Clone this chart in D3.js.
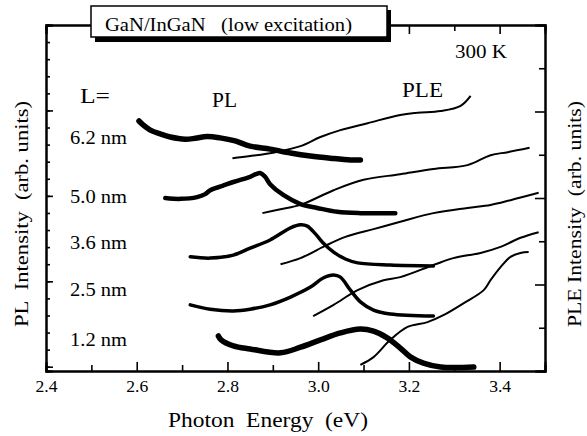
<!DOCTYPE html>
<html>
<head>
<meta charset="utf-8">
<script src="https://cdn.jsdelivr.net/npm/d3@7"></script>
<style>
  body { margin: 0; background: #fff; }
  svg text { font-family: "Liberation Serif", "Times New Roman", serif; fill: #000; }
</style>
</head>
<body>
<svg id="chart" width="587" height="436"></svg>
<script>
// photon energy (eV) / intensity (arb. units, PLE axis 0..8)
let wellWidths = ["6.2 nm", "5.0 nm", "3.6 nm", "2.5 nm", "1.2 nm"];

let pl62 = [[2.605,5.78],[2.614,5.69],[2.630,5.57],[2.652,5.48],[2.674,5.41],[2.707,5.36],[2.729,5.38],
    [2.755,5.42],[2.784,5.39],[2.817,5.32],[2.850,5.20],[2.894,5.13],[2.939,5.04],[2.983,4.97],
    [3.027,4.92],[3.071,4.88],[3.093,4.88]];
let pl50 = [[2.663,4.00],[2.696,3.98],[2.733,4.02],[2.751,4.09],[2.762,4.18],[2.789,4.28],[2.813,4.37],
    [2.850,4.49],[2.872,4.58],[2.883,4.49],[2.894,4.32],[2.923,4.07],[2.961,3.86],[2.998,3.77],
    [3.042,3.68],[3.093,3.65],[3.170,3.65]];
let pl36 = [[2.718,2.64],[2.762,2.61],[2.813,2.68],[2.850,2.84],[2.894,3.03],[2.939,3.31],[2.961,3.38],
    [2.976,3.35],[2.994,3.17],[3.011,2.96],[3.034,2.75],[3.060,2.59],[3.087,2.50],[3.159,2.45],[3.254,2.43]];
let pl25 = [[2.718,1.53],[2.762,1.43],[2.813,1.39],[2.850,1.43],[2.894,1.53],[2.939,1.71],[2.983,1.94],
    [3.011,2.15],[3.034,2.22],[3.049,2.17],[3.071,1.87],[3.093,1.60],[3.122,1.41],[3.159,1.32],[3.254,1.27]];
let pl12 = [[2.780,0.81],[2.786,0.72],[2.813,0.58],[2.850,0.51],[2.917,0.42],[2.961,0.55],[3.005,0.72],
    [3.049,0.88],[3.093,0.97],[3.122,0.92],[3.153,0.76],[3.181,0.53],[3.204,0.32],[3.232,0.18],
    [3.270,0.09],[3.343,0.09]];

let ple62 = [[2.811,4.92],[2.850,4.97],[2.906,5.06],[2.961,5.20],[3.005,5.41],[3.049,5.57],[3.109,5.73],
    [3.181,5.92],[3.219,5.97],[3.270,6.01],[3.314,6.13],[3.336,6.36]];
let ple50 = [[2.877,3.65],[2.917,3.74],[2.961,3.84],[3.034,4.18],[3.100,4.42],[3.181,4.55],[3.254,4.67],
    [3.329,4.76],[3.380,4.99],[3.418,5.06],[3.466,5.16]];
let ple36 = [[2.917,2.47],[2.961,2.61],[3.011,2.87],[3.060,3.10],[3.122,3.28],[3.181,3.45],[3.254,3.65],
    [3.329,3.77],[3.380,3.84],[3.424,3.95],[3.486,4.12]];
let ple25 = [[2.989,1.27],[3.034,1.53],[3.087,1.87],[3.144,2.10],[3.181,2.17],[3.254,2.45],[3.298,2.61],
    [3.358,2.73],[3.402,2.87],[3.446,3.08],[3.486,3.21]];
let ple12 = [[3.093,0.14],[3.122,0.32],[3.159,0.72],[3.197,1.02],[3.241,1.13],[3.276,1.29],[3.321,1.57],
    [3.365,1.87],[3.380,2.10],[3.402,2.40],[3.424,2.64],[3.446,2.73],[3.464,2.75]];

let xLabelTicks = [2.4, 2.6, 2.8, 3.0, 3.2, 3.4];
let xMinorTicks = [2.5, 2.7, 2.9, 3.1, 3.3];
let leftTicks = d3.range(0, 21);
let leftMajor = [0, 5, 10, 15, 20];
let rightMajor = [0, 2, 4, 6, 8];
let rightMinor = [1, 3, 5, 7];

let plotLeft = 46, plotRight = 545, plotTop = 25, plotBottom = 371;
let svg = d3.select("#chart");

let x = d3.scaleLinear().domain([2.4, 3.5]).range([plotLeft, plotRight]);
let y = d3.scaleLinear().domain([0, 8]).range([plotBottom, plotTop]);
let yLeft = d3.scaleLinear().domain([-0.25, 20]).range([plotBottom, plotTop]);

let styleAxis = function (g) {
    g.attr("font-family", null).attr("font-size", null);
    g.select(".domain").attr("stroke-width", 2);
    g.selectAll(".tick line").attr("stroke-width", 1.6);
    g.selectAll("text")
        .style("font-family", "'Liberation Serif', 'Times New Roman', serif")
        .style("font-size", "16px")
        .attr("textLength", 22).attr("lengthAdjust", "spacingAndGlyphs");
}

// text helper: the scanned figure's lettering is a bit wider than the font, so stretch to width
let addText = function (px, py, str, size, width, anchor) {
    return svg.append("text").attr("x", px).attr("y", py)
        .attr("text-anchor", anchor || "start")
        .style("font-size", size + "px")
        .attr("xml:space", "preserve")
        .attr("textLength", width).attr("lengthAdjust", "spacingAndGlyphs")
        .text(str);
}

// bottom axis, labelled majors then minors
svg.append("g").attr("transform", "translate(0," + plotBottom + ")")
    .call(d3.axisBottom(x).tickValues(xLabelTicks).tickSize(-9).tickPadding(10).tickFormat(d3.format(".1f")))
    .call(styleAxis);
svg.append("g").attr("transform", "translate(0," + plotBottom + ")")
    .call(d3.axisBottom(x).tickValues(xMinorTicks).tickSize(-6).tickFormat(""))
    .call(styleAxis);
// top axis
svg.append("g").attr("transform", "translate(0," + plotTop + ")")
    .call(d3.axisTop(x).tickValues(xLabelTicks).tickSize(-9).tickFormat(""))
    .call(styleAxis);
svg.append("g").attr("transform", "translate(0," + plotTop + ")")
    .call(d3.axisTop(x).tickValues(xMinorTicks).tickSize(-6).tickFormat(""))
    .call(styleAxis);
// left axis (PL)
svg.append("g").attr("transform", "translate(" + plotLeft + ",0)")
    .call(d3.axisLeft(yLeft).tickValues(leftTicks).tickSize(-4).tickFormat(""))
    .call(styleAxis);
svg.append("g").attr("transform", "translate(" + plotLeft + ",0)")
    .call(d3.axisLeft(yLeft).tickValues(leftMajor).tickSize(-7).tickFormat(""))
    .call(styleAxis);
// right axis (PLE)
svg.append("g").attr("transform", "translate(" + plotRight + ",0)")
    .call(d3.axisRight(y).tickValues(rightMajor).tickSize(-10).tickFormat(""))
    .call(styleAxis);
svg.append("g").attr("transform", "translate(" + plotRight + ",0)")
    .call(d3.axisRight(y).tickValues(rightMinor).tickSize(-6).tickFormat(""))
    .call(styleAxis);

let line = d3.line()
    .x(function (d) { return x(d[0]); })
    .y(function (d) { return y(d[1]); })
    .curve(d3.curveCatmullRom.alpha(0.5));

// PLE spectra: thin lines
[ple62, ple50, ple36, ple25, ple12].forEach(function (s) {
    svg.append("path").datum(s).attr("d", line)
        .attr("fill", "none").attr("stroke", "black").attr("stroke-width", 2);
});

// PL spectra: thick traces (the noisy ones thicker)
let plSeries = [pl62, pl50, pl36, pl25, pl12];
let plWidth = [5.5, 4.5, 3.5, 3.5, 5.5];
plSeries.forEach(function (s, i) {
    svg.append("path").datum(s).attr("d", line)
        .attr("fill", "none").attr("stroke", "black")
        .attr("stroke-width", plWidth[i]).attr("stroke-linejoin", "round").attr("stroke-linecap", "round");
});

// well width labels
let labelY = [144, 203, 249, 296, 346];
wellWidths.forEach(function (d, i) {
    addText(70, labelY[i], d, 18, 57);
});

addText(80, 103, "L=", 20, 30);
addText(212, 107, "PL", 20, 25);
addText(402, 97, "PLE", 20, 41);
addText(455, 58, "300 K", 18, 52);

// title box with drop shadow
svg.append("rect").attr("x", 95).attr("y", 10).attr("width", 296).attr("height", 32).attr("fill", "black");
svg.append("rect").attr("x", 91).attr("y", 6).attr("width", 296).attr("height", 31)
    .attr("fill", "white").attr("stroke", "black").attr("stroke-width", 1.5);
addText(105, 31, "GaN/InGaN   (low excitation)", 18, 247);

// axis titles
addText(268, 427, "Photon  Energy  (eV)", 20, 200, "middle");
addText(0, 0, "PL  Intensity  (arb. units)", 18, 226, "middle")
    .attr("transform", "translate(28,214) rotate(-90)");
addText(0, 0, "PLE Intensity  (arb. units)", 18, 226, "middle")
    .attr("transform", "translate(581,214) rotate(-90)");
</script>
</body>
</html>
